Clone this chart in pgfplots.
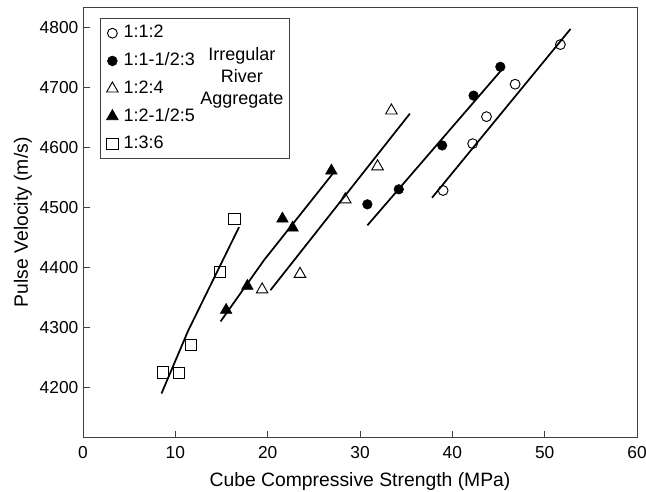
\documentclass[border=0pt]{standalone}
\usepackage{fontspec}
\setmainfont{Liberation Sans}
\usepackage{pgfplots}
\pgfplotsset{compat=1.18}
\begin{document}
\begin{tikzpicture}[font=\fontsize{13}{15}\selectfont]
\begin{axis}[
  width=415.5pt, height=322.5pt, scale only axis,
  xmin=0, xmax=60, ymin=4117, ymax=4833,
  xtick={0,10,...,60}, ytick={4200,4300,...,4800},
  tick align=inside, xtick pos=left, ytick pos=left,
  major tick length=5pt,
  tick label style={font=\fontsize{13}{15}\selectfont},
  xticklabel style={yshift=-3pt},
  label style={font=\fontsize{14.5}{17}\selectfont},
  axis line style={black!75, line width=0.7pt},
  tick style={black!75, line width=0.7pt},
  /pgf/number format/assume math mode=true,
  /pgf/number format/1000 sep={},
  xlabel={Cube Compressive Strength (MPa)},
  ylabel={Pulse Velocity (m/s)},
  xlabel style={yshift=-4pt},
  ylabel style={yshift=-1pt},
  legend cell align=left,
  legend style={at={(axis cs:1.84,4815)}, anchor=north west,
    draw=black!75, line width=0.6pt, row sep=4.8pt,
    inner xsep=2pt, inner ysep=3pt,
    font=\fontsize{13.5}{15}\selectfont,
    nodes={text width=121pt, inner sep=1.5pt, text height=10pt, text depth=3pt}},
  legend image code/.code={\path[draw=none] (0pt,0pt) -- (14pt,0pt); \draw[#1, only marks] plot coordinates {(7pt,0pt)};},
]
% data series
\addplot[only marks, mark=o, mark size=3.7pt, black, line width=0.7pt] coordinates {
(39.0,4528) (42.2,4606) (43.7,4651) (46.8,4705) (51.7,4771)};
\addlegendentry{1:1:2}
\addplot[only marks, mark=*, mark size=3.6pt, black] coordinates {
(30.8,4505) (34.2,4530) (38.9,4603) (42.3,4686) (45.2,4734)};
\addlegendentry{1:1-1/2:3}
\addplot[only marks, mark=triangle, mark size=5pt, black, line width=0.7pt] coordinates {
(19.4,4363) (23.5,4389) (28.4,4513) (31.9,4568) (33.4,4661)};
\addlegendentry{1:2:4}
\addplot[only marks, mark=triangle*, mark size=5pt, black] coordinates {
(15.5,4329) (17.8,4369) (21.6,4481) (22.7,4466) (26.9,4561)};
\addlegendentry{1:2-1/2:5}
\addplot[only marks, mark=square, mark size=4.2pt, black, line width=0.7pt] coordinates {
(8.7,4225) (10.4,4224) (11.7,4271) (14.8,4392) (16.4,4480)};
\addlegendentry{1:3:6}
% fitted lines
\addplot[black, line width=1.3pt, forget plot] coordinates {(37.8,4516) (52.8,4797)};
\addplot[black, line width=1.3pt, forget plot] coordinates {(30.8,4470) (45.4,4730)};
\addplot[black, line width=1.3pt, forget plot] coordinates {(20.3,4362) (35.4,4656)};
\addplot[black, line width=1.3pt, forget plot] coordinates {(14.9,4310) (19.6,4412) (27.2,4559)};
\addplot[black, line width=1.3pt, forget plot] coordinates {(8.5,4190) (11.4,4295) (16.9,4467)};
\coordinate (irr) at (axis cs:17.2,4716);
\end{axis}
\node[align=center, font=\fontsize{13.5}{16.5}\selectfont] at (irr) {Irregular\\River\\Aggregate};
\pgfresetboundingbox
\path[use as bounding box] ([shift={(-62.25pt,-40.5pt)}]current axis.south west) rectangle ([shift={(6.75pt,5.5pt)}]current axis.north east);
\end{tikzpicture}
\end{document}
